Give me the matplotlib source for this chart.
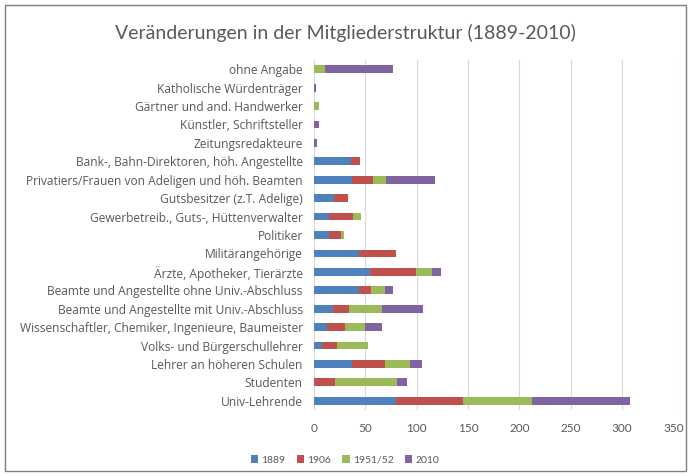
import matplotlib
matplotlib.use("Agg")
import matplotlib.pyplot as plt
from matplotlib.patches import Rectangle
import numpy as np

plt.rcParams['font.family'] = ['Lato', 'DejaVu Sans']

categories = [
    "Univ-Lehrende",
    "Studenten",
    "Lehrer an höheren Schulen",
    "Volks- und Bürgerschullehrer",
    "Wissenschaftler, Chemiker, Ingenieure, Baumeister",
    "Beamte und Angestellte mit Univ.-Abschluss",
    "Beamte und Angestellte ohne Univ.-Abschluss",
    "Ärzte, Apotheker, Tierärzte",
    "Militärangehörige",
    "Politiker",
    "Gewerbetreib., Guts-, Hüttenverwalter",
    "Gutsbesitzer (z.T. Adelige)",
    "Privatiers/Frauen von Adeligen und höh. Beamten",
    "Bank-, Bahn-Direktoren, höh. Angestellte",
    "Zeitungsredakteure",
    "Künstler, Schriftsteller",
    "Gärtner und and. Handwerker",
    "Katholische Würdenträger",
    "ohne Angabe",
]

series_names = ["1889", "1906", "1951/52", "2010"]
v1889 = [80, 0, 37, 8, 13, 19, 44, 55, 44, 15, 15, 20, 37, 36, 0, 0, 0, 0, 0]
v1906 = [65, 21, 32, 15, 17, 15, 12, 44, 36, 11, 23, 13, 21, 9, 0, 0, 0, 0, 0]
v1951 = [67, 60, 25, 30, 20, 32, 13, 16, 0, 3, 8, 0, 12, 0, 0, 0, 5, 0, 11]
v2010 = [96, 10, 11, 0, 16, 40, 8, 9, 0, 0, 0, 0, 48, 0, 3, 5, 0, 2, 66]
colors = ["#4F81BD", "#C0504D", "#9BBB59", "#8064A2"]

x_ticks = [0, 50, 100, 150, 200, 250, 300, 350]

fig = plt.figure(figsize=(6.9, 4.76), dpi=100)
ax = fig.add_axes([313.8 / 690, (476 - 410) / 476, (673.4 - 313.8) / 690, 350 / 476])

y = np.arange(len(categories))
left = np.zeros(len(categories))
for vals, name, c in zip([v1889, v1906, v1951, v2010], series_names, colors):
    vals = np.array(vals, dtype=float)
    ax.barh(y, vals, left=left, height=0.42, color=c, label=name, zorder=3)
    left += vals

ax.set_xlim(0, 350)
ax.set_ylim(-0.5, len(categories) - 0.5)
ax.set_xticks(x_ticks)
ax.set_yticks(y)
ax.set_yticklabels(categories, family=['Open Sans', 'DejaVu Sans'], fontsize=8.65)
ax.grid(axis='x', color='#D9D9D9', linewidth=0.8, zorder=0)
for s in ax.spines.values():
    s.set_visible(False)
ax.tick_params(axis='both', length=0, colors='#595959')
ax.tick_params(axis='x', pad=9, labelsize=8.5)
ax.tick_params(axis='y', pad=8)

fig.text(0.5, 1 - 33 / 476, "Veränderungen in der Mitgliederstruktur (1889-2010)",
         ha='center', va='center', fontsize=14, color='#595959')

leg = fig.legend(loc='center', bbox_to_anchor=(345 / 690, 1 - 460 / 476), ncol=4,
                 frameon=False, fontsize=7.5, handlelength=0.7, handleheight=0.7,
                 handletextpad=0.3, columnspacing=1.1)
for t in leg.get_texts():
    t.set_color('#595959')

fig.patches.append(Rectangle((5 / 690, 5 / 476), 681 / 690, 466 / 476,
                             transform=fig.transFigure, fill=False,
                             edgecolor='#7F7F7F', linewidth=1.0))

fig.savefig("out.png", dpi=100)
